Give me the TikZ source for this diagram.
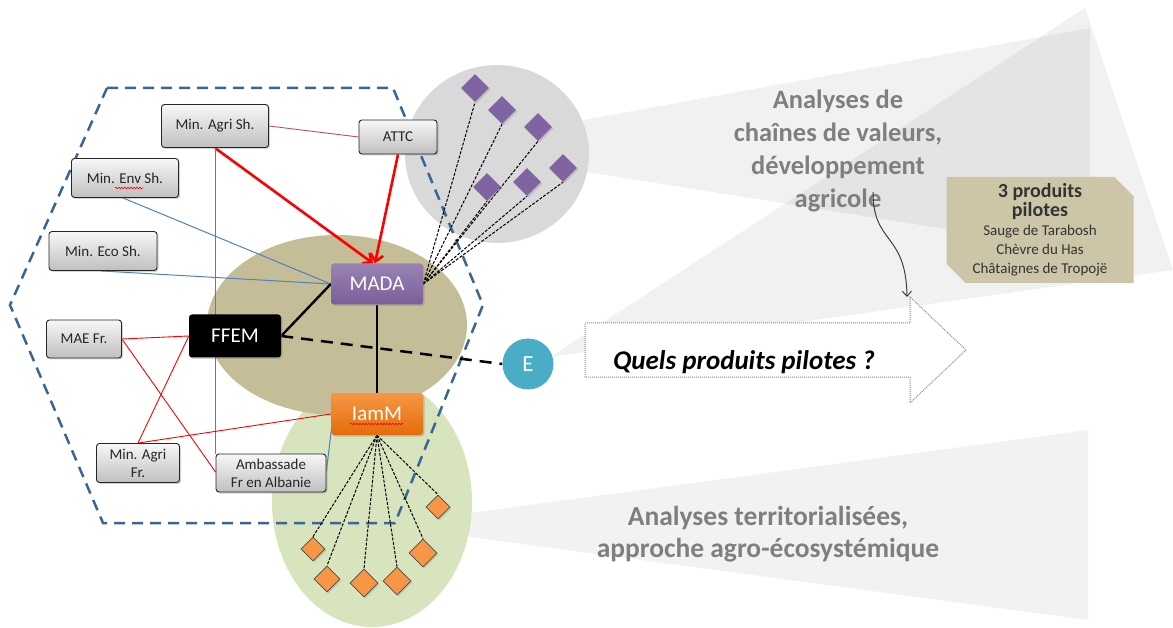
\documentclass[tikz,border=0pt]{standalone}
\usepackage{fontspec}
\setmainfont{Carlito}
\usetikzlibrary{arrows.meta,shapes.geometric,shapes.misc,shadows,decorations.pathmorphing,calc}
\definecolor{tanc}{HTML}{C4BD97}
\definecolor{greenc}{HTML}{D7E4BD}
\definecolor{circgray}{HTML}{D9D9D9}
\definecolor{hexblue}{HTML}{3A6597}
\definecolor{purp}{HTML}{8064A2}
\definecolor{orng}{HTML}{F79646}
\definecolor{orngdk}{HTML}{E46C0A}
\definecolor{ecyan}{HTML}{4BACC6}
\definecolor{lineblue}{HTML}{4F81BD}
\definecolor{darkred}{HTML}{C0504D}
\definecolor{txtgray}{HTML}{7F7F7F}
\definecolor{boxtan}{HTML}{CCC5A8}
\pgfdeclarelayer{bg}
\pgfdeclarelayer{conn}
\pgfsetlayers{bg,conn,main}
\begin{document}
\begin{tikzpicture}[x=1pt,y=-1pt,
  gbox/.style={draw=black!85, line width=0.9pt, rounded corners=3pt,
    top color=black!3, bottom color=black!25, text=black!85, align=center,
    inner sep=1pt, font=\fontsize{15}{18}\selectfont,
    drop shadow={opacity=0.35, shadow xshift=1.5pt, shadow yshift=-1.5pt}},
  cbox/.style={rounded corners=3pt, text=white, font=\fontsize{21}{22}\selectfont,
    minimum width=92pt, minimum height=42pt, inner sep=1pt,
    drop shadow={opacity=0.35, shadow xshift=1.5pt, shadow yshift=-1.5pt}},
  pdia/.style={diamond, fill=purp, inner sep=0pt, minimum width=28pt, minimum height=28pt,
    drop shadow={opacity=0.3, shadow xshift=1.5pt, shadow yshift=-1.5pt}},
  odia/.style={diamond, fill=orng, draw=black!70, line width=0.7pt, inner sep=0pt,
    drop shadow={opacity=0.3, shadow xshift=1.5pt, shadow yshift=-1.5pt}},
  dline/.style={black, line width=1pt, dash pattern=on 3pt off 1.5pt},
  redarr/.style={red, line width=2.6pt, -{Straight Barb[length=7pt,width=13pt]}},
  thinred/.style={red, line width=0.9pt},
  thinblue/.style={lineblue, line width=1pt},
  thickblack/.style={black, line width=2.4pt},
  bigtext/.style={text=txtgray, align=center, font=\fontsize{26.5}{33}\selectfont\bfseries},
  squig/.style={red, line width=0.6pt, decorate, decoration={snake, amplitude=0.8pt, segment length=3pt}}
]
\useasboundingbox (0,0) rectangle (1173,628);

% ---------- background ----------
\begin{pgfonlayer}{bg}
\fill[black, opacity=0.055] (550,357) -- (1085,8) -- (1173,270) -- cycle;
\fill[black, opacity=0.055] (583,120) -- (1090,28) -- (1090,252) -- (587,172) -- cycle;
\fill[black!5] (455,515) -- (1088,430) -- (1088,620) -- (455,535) -- cycle;
\fill[circgray] (497,154) ellipse [x radius=92, y radius=89];
\fill[greenc] (372,502) ellipse [x radius=100, y radius=125];
\fill[tanc] (337,325) ellipse [x radius=130, y radius=90];
\draw[hexblue, line width=2.5pt, dash pattern=on 11pt off 7pt]
  (107,88) -- (393,88) -- (483,305) -- (395,523) -- (103,523) -- (10,305) -- cycle;
\end{pgfonlayer}

% ---------- nodes ----------
\node[gbox, minimum width=107pt, minimum height=43pt] (MinAgriSh) at (215,126) {Min. Agri Sh.};
\node[gbox, minimum width=78pt, minimum height=34pt] (ATTC) at (398,137) {ATTC};
\node[gbox, minimum width=107pt, minimum height=39pt] (MinEnv) at (125,178) {Min. Env Sh.};
\node[gbox, minimum width=108pt, minimum height=39pt] (MinEco) at (103,251) {Min. Eco Sh.};
\node[gbox, minimum width=75pt, minimum height=38pt] (MAE) at (84,339) {MAE Fr.};
\node[gbox, minimum width=83pt, minimum height=39pt] (MinAgriFr) at (138,463) {Min. Agri\\Fr.};
\node[gbox, minimum width=110pt, minimum height=38pt] (Amb) at (271,473) {Ambassade\\Fr en Albanie};
\node[cbox, top color=purp!80!white, bottom color=purp!95!black, minimum height=41pt] (MADA) at (377,284) {MADA};
\node[cbox, fill=black, minimum height=43pt] (FFEM) at (235,336) {FFEM};
\node[cbox, top color=orng, bottom color=orngdk] (IamM) at (377,414) {IamM};

\draw[squig] ($(MinEnv.center)+(-10,10)$) -- ($(MinEnv.center)+(18,10)$);
\draw[squig] ($(IamM.center)+(-27,10)$) -- ($(IamM.center)+(26,10)$);

% purple diamonds
\node[pdia] (p1) at (475,88) {};
\node[pdia] (p2) at (502,110) {};
\node[pdia] (p3) at (538,127) {};
\node[pdia] (p4) at (563,168) {};
\node[pdia] (p5) at (527,182) {};
\node[pdia] (p6) at (487,187) {};
% orange diamonds
\node[odia, minimum width=24pt, minimum height=24pt] (o1) at (313,549) {};
\node[odia, minimum width=26pt, minimum height=26pt] (o2) at (327,579) {};
\node[odia, minimum width=28pt, minimum height=28pt] (o3) at (364,583) {};
\node[odia, minimum width=28pt, minimum height=28pt] (o4) at (397,581) {};
\node[odia, minimum width=28pt, minimum height=28pt] (o5) at (423,553) {};
\node[odia, minimum width=24pt, minimum height=24pt] (o6) at (438,507) {};

% E circle
\node[circle, fill=ecyan, minimum size=51pt, inner sep=0pt, text=white,
  font=\fontsize{23}{23}\selectfont] (E) at (528,364) {E};

% big arrow
\draw[black!45, densely dotted, line width=1pt, fill=white]
  (585,323) -- (910,323) -- (910,297) -- (966,350) -- (910,403) -- (910,377) -- (585,377) -- cycle;
\node[font=\fontsize{27}{27}\selectfont\bfseries\itshape] (Q) at (744,362) {Quels produits pilotes ?};

% right texts
\node[bigtext] (T1) at (838,151) {Analyses de\\chaînes de valeurs,\\développement\\agricole};
\node[bigtext, font=\fontsize{27.5}{32}\selectfont\bfseries] (T2) at (768,534) {Analyses territorialisées,\\approche agro-écosystémique};

\node[chamfered rectangle, chamfered rectangle corners={north east,south west},
  chamfered rectangle xsep=16pt, fill=boxtan, minimum width=187pt, minimum height=106pt,
  align=center, text=black!80, font=\fontsize{15}{19}\selectfont, inner sep=0pt] (P) at (1040,230)
  {{\fontsize{20}{26}\selectfont\bfseries 3 produits}\\{\fontsize{20}{24}\selectfont\bfseries pilotes}\\Sauge de Tarabosh\\Chèvre du Has\\Châtaignes de Tropojë};

\coordinate (cs) at (873,192);
\coordinate (ce) at (907,297);
\draw[black!75, line width=1pt, -{Straight Barb[length=5pt,width=9pt]}]
  (cs) .. controls (873,245) and (906,232) .. (ce);

% ---------- connectors ----------
\begin{pgfonlayer}{conn}
\draw[darkred, line width=0.9pt] (MinAgriSh.east) -- (ATTC.west);
\draw[redarr] (MinAgriSh.south) -- ($(MADA.north)+(-4,0)$);
\draw[redarr] (ATTC.south) -- ($(MADA.north)+(-2,0)$);
\draw[thinblue] ($(MinEnv.south)+(-2,0)$) -- (MADA.west);
\draw[thinblue] ($(MinEco.south)+(-2,0)$) -- (MADA.west);
\draw[thinblue] (MinAgriSh.south) -- (MinAgriSh.south |- Amb.north);
\draw[thinblue] ($(Amb.east)+(0,-2)$) -- ($(IamM.west)+(2,3)$);
\draw[thinred] (MAE.east) -- (FFEM.west);
\draw[thinred] (MAE.east) -- ($(Amb.west)+(0,-1)$);
\draw[thinred] (MinAgriFr.north) -- (FFEM.west);
\draw[thinred] (MinAgriFr.north) -- (IamM.west);
\draw[thickblack] (MADA.west) -- (FFEM.east);
\draw[thickblack] (MADA.south) -- (IamM.north);
\draw[black, line width=2.5pt, dash pattern=on 12pt off 8pt] (FFEM.east) -- (E.west);
\foreach \d in {p1,p2,p3,p4,p5,p6} \draw[dline] (MADA.east) -- (\d.south);
\foreach \d in {o1,o2,o3,o4,o5,o6} \draw[dline] (IamM.south) -- (\d.north);
\end{pgfonlayer}
\end{tikzpicture}
\end{document}
